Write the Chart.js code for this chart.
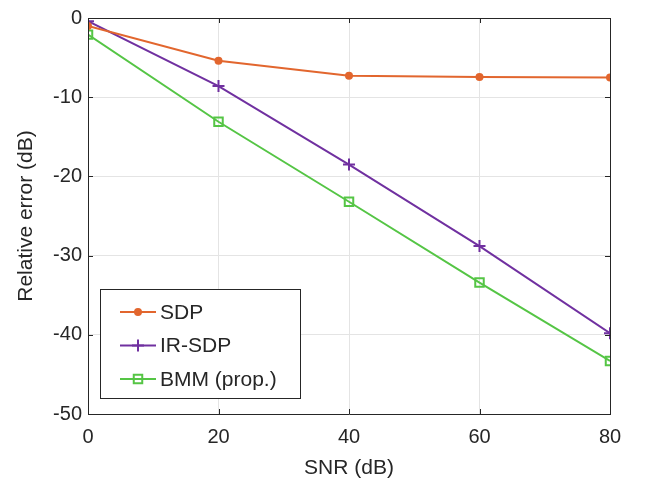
<!DOCTYPE html>
<html>
<head>
<meta charset="utf-8">
<script src="https://cdn.jsdelivr.net/npm/chart.js@4.4.1/dist/chart.umd.min.js"></script>
<style>
  html, body { margin: 0; padding: 0; background: #fff; }
  #wrap { width: 648px; height: 485px; position: relative; }
</style>
</head>
<body>
<div id="wrap"><canvas id="grafica"></canvas></div>
<script>
// datos
const snr = [0, 20, 40, 60, 80];
const sdp = [-1.0, -5.4, -7.3, -7.45, -7.5];
const irSdp = [-0.4, -8.6, -18.5, -28.8, -39.8];
const bmm = [-2.1, -13.1, -23.2, -33.4, -43.3];
const xTicks = [0, 20, 40, 60, 80];
const yTicks = [0, -10, -20, -30, -40, -50];

const fuente = '"Liberation Sans", Arial, sans-serif';
const texto = '#262626';

const puntos = vals => snr.map((x, i) => ({ x: x, y: vals[i] }));

// marco, marcas hacia adentro y leyenda al estilo matlab
const marcoMatlab = {
  id: 'marcoMatlab',
  afterDatasetsDraw(chart) {
    const { ctx, chartArea: a, scales } = chart;
    ctx.save();
    ctx.lineWidth = 1;
    ctx.strokeStyle = texto;
    ctx.beginPath();
    xTicks.forEach(t => {
      const px = Math.round(scales.x.getPixelForValue(t)) + 0.5;
      ctx.moveTo(px, a.bottom); ctx.lineTo(px, a.bottom - 5);
      ctx.moveTo(px, a.top); ctx.lineTo(px, a.top + 5);
    });
    yTicks.forEach(t => {
      const py = Math.round(scales.y.getPixelForValue(t)) + 0.5;
      ctx.moveTo(a.left, py); ctx.lineTo(a.left + 5, py);
      ctx.moveTo(a.right, py); ctx.lineTo(a.right - 5, py);
    });
    ctx.stroke();
    // bordes
    ctx.beginPath();
    ctx.moveTo(a.left + 0.5, a.top + 0.5); ctx.lineTo(a.right + 0.5, a.top + 0.5);
    ctx.moveTo(a.left + 0.5, a.bottom + 0.5); ctx.lineTo(a.right + 0.5, a.bottom + 0.5);
    ctx.moveTo(a.left + 0.5, a.top); ctx.lineTo(a.left + 0.5, a.bottom + 1);
    ctx.moveTo(a.right + 0.5, a.top); ctx.lineTo(a.right + 0.5, a.bottom + 1);
    ctx.stroke();

    // leyenda
    const lx = 100, ly = 289, lw = 200, lh = 109;
    ctx.fillStyle = '#fff';
    ctx.fillRect(lx, ly, lw, lh);
    ctx.strokeStyle = texto;
    ctx.strokeRect(lx + 0.5, ly + 0.5, lw, lh);
    ctx.font = '21px ' + fuente;
    ctx.textBaseline = 'middle';
    chart.data.datasets.forEach((ds, i) => {
      const y = ly + 23 + i * 33.5;
      ctx.strokeStyle = ds.borderColor;
      ctx.fillStyle = ds.pointBackgroundColor;
      ctx.lineWidth = 2;
      ctx.beginPath();
      ctx.moveTo(lx + 20, y); ctx.lineTo(lx + 56, y);
      ctx.stroke();
      Chart.helpers.drawPoint(ctx, {
        pointStyle: ds.pointStyle,
        radius: ds.pointRadius,
        borderWidth: ds.pointBorderWidth,
        rotation: 0
      }, lx + 38, y);
      ctx.fillStyle = texto;
      ctx.fillText(ds.label, lx + 60, y + 1);
    });
    ctx.restore();
  }
};

function serie(label, vals, color, estilo, radio, relleno) {
  return {
    label: label,
    data: puntos(vals),
    borderColor: color,
    backgroundColor: relleno ? color : 'rgba(0,0,0,0)',
    borderWidth: 2,
    pointStyle: estilo,
    pointRadius: radio,
    pointBorderWidth: 2,
    pointBackgroundColor: relleno ? color : 'rgba(0,0,0,0)',
    pointBorderColor: color,
    tension: 0
  };
}

const datasets = [
  serie('SDP', sdp, '#E2662E', 'circle', 3, true),
  serie('IR-SDP', irSdp, '#7030A0', 'cross', 6, false),
  serie('BMM (prop.)', bmm, '#55C545', 'rect', 6, false)
];

const chart = new Chart(document.getElementById('grafica'), {
  type: 'line',
  data: { datasets: datasets },
  options: {
    responsive: true,
    maintainAspectRatio: false,
    animation: false,
    layout: { padding: { left: 14, right: 38, top: 14, bottom: 4 } },
    plugins: {
      legend: { display: false },
      tooltip: { enabled: false }
    },
    scales: {
      x: {
        type: 'linear',
        min: 0, max: 80,
        afterBuildTicks: s => { s.ticks = xTicks.map(v => ({ value: v })); },
        afterFit: s => { s.height = 67; },
        border: { display: false },
        grid: { color: '#e4e4e4', drawTicks: false, lineWidth: 1 },
        ticks: {
          color: texto, padding: 11,
          font: { family: fuente, size: 20 },
          callback: v => String(v)
        },
        title: {
          display: true, text: 'SNR (dB)', color: texto,
          font: { family: fuente, size: 21 }, padding: { top: 0, bottom: 0 }
        }
      },
      y: {
        type: 'linear',
        min: -50, max: 0,
        afterBuildTicks: s => { s.ticks = yTicks.map(v => ({ value: v })); },
        afterFit: s => { s.width = 74; },
        border: { display: false },
        grid: { color: '#e4e4e4', drawTicks: false, lineWidth: 1 },
        ticks: {
          color: texto, padding: 6,
          font: { family: fuente, size: 20 },
          callback: v => String(v)
        },
        title: {
          display: true, text: 'Relative error (dB)', color: texto,
          font: { family: fuente, size: 21 }, padding: { top: 0, bottom: 4 }
        }
      }
    }
  },
  plugins: [marcoMatlab]
});
</script>
</body>
</html>
